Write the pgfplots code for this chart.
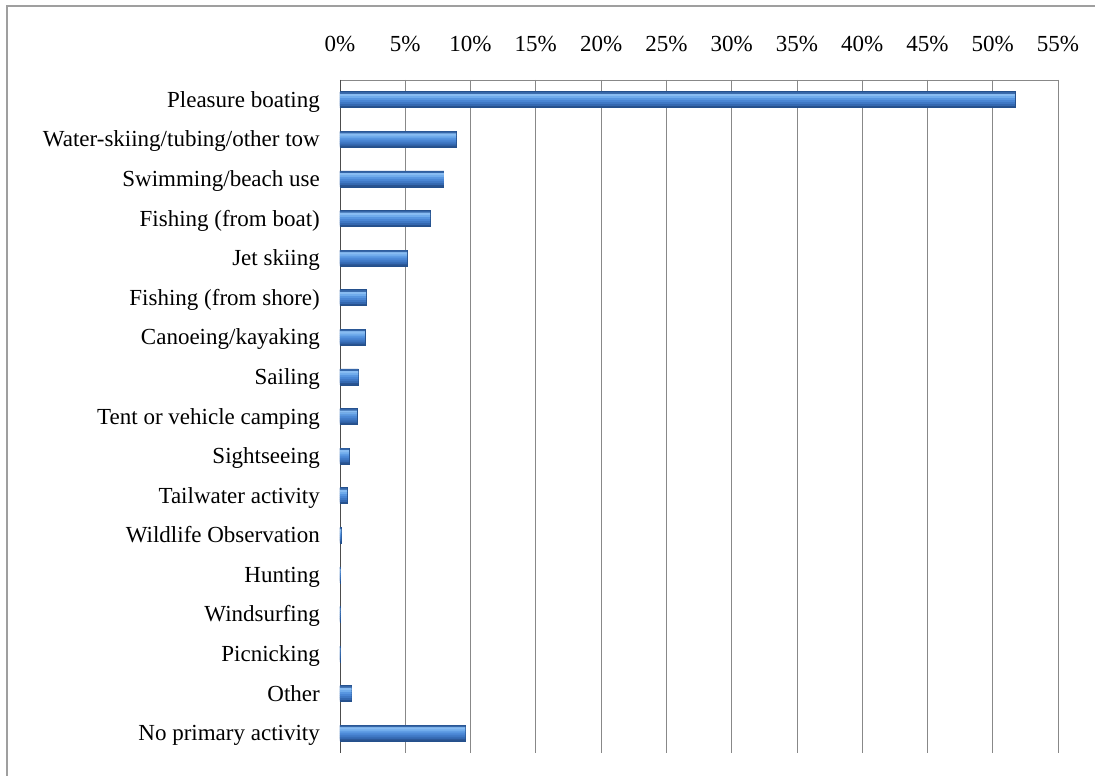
\documentclass[border=0pt]{standalone}
\usepackage{fontspec}
\setmainfont{Liberation Serif}
\usepackage{pgfplots}
\pgfplotsset{compat=1.18}
\definecolor{s1}{HTML}{3566A8}
\definecolor{s2}{HTML}{88BCF2}
\definecolor{s3}{HTML}{70ACEC}
\definecolor{s4}{HTML}{5896E0}
\definecolor{s5}{HTML}{4A86D4}
\definecolor{s6}{HTML}{3F78C4}
\definecolor{s7}{HTML}{3468B0}
\definecolor{s8}{HTML}{28528E}
\definecolor{edge}{HTML}{24508C}
\definecolor{gridc}{HTML}{888888}
\pgfplotstableread{
idx val
0 51.7
1 8.9
2 7.95
3 6.9
4 5.15
5 2.0
6 1.9
7 1.4
8 1.3
9 0.7
10 0.55
11 0.1
12 0.04
13 0.03
14 0.02
15 0.9
16 9.6
}\acts
\begin{document}
\begin{tikzpicture}
\path[use as bounding box] (0,0) rectangle (1095pt,776pt);
\draw[gray!75, line width=2.5pt] (7pt,0) -- (7pt,770pt) -- (1095pt,770pt);
\begin{axis}[
  at={(340pt,696pt)}, anchor=north west,
  scale only axis, width=718pt, height=673pt,
  xbar, bar width=2.4pt,
  xmin=0, xmax=55, ymin=-0.5, ymax=16.5,
  y dir=reverse,
  axis x line*=top, axis y line*=left,
  x axis line style={gridc},
  y axis line style={black!70},
  xmajorgrids, major grid style={gridc, line width=0.8pt},
  major tick length=0pt,
  xtick={0,5,...,55},
  xticklabels={0\%,5\%,10\%,15\%,20\%,25\%,30\%,35\%,40\%,45\%,50\%,55\%},
  ytick={0,...,16},
  yticklabels={Pleasure boating,Water-skiing/tubing/other tow,Swimming/beach use,Fishing (from boat),Jet skiing,Fishing (from shore),Canoeing/kayaking,Sailing,Tent or vehicle camping,Sightseeing,Tailwater activity,Wildlife Observation,Hunting,Windsurfing,Picnicking,Other,No primary activity},
  tick label style={font=\fontsize{23}{27}\selectfont},
  xticklabel style={anchor=base, inner sep=0pt, yshift=28pt},
  yticklabel style={anchor=base east, inner sep=0pt, xshift=-20pt, yshift=-7.5pt},
]
\addplot[fill=s8, draw=edge, line width=0.6pt, bar width=16pt, bar shift=0pt] table[x=val, y=idx] {\acts};
\addplot[fill=s7, draw=none, bar shift=-5pt] table[x=val, y=idx] {\acts};
\addplot[fill=s6, draw=none, bar shift=-3pt] table[x=val, y=idx] {\acts};
\addplot[fill=s5, draw=none, bar shift=-1pt] table[x=val, y=idx] {\acts};
\addplot[fill=s4, draw=none, bar shift=1pt] table[x=val, y=idx] {\acts};
\addplot[fill=s3, draw=none, bar shift=3pt] table[x=val, y=idx] {\acts};
\addplot[fill=s2, draw=none, bar shift=5pt] table[x=val, y=idx] {\acts};
\addplot[fill=s1, draw=none, bar width=1.6pt, bar shift=6.9pt] table[x=val, y=idx] {\acts};
\end{axis}
\end{tikzpicture}
\end{document}
